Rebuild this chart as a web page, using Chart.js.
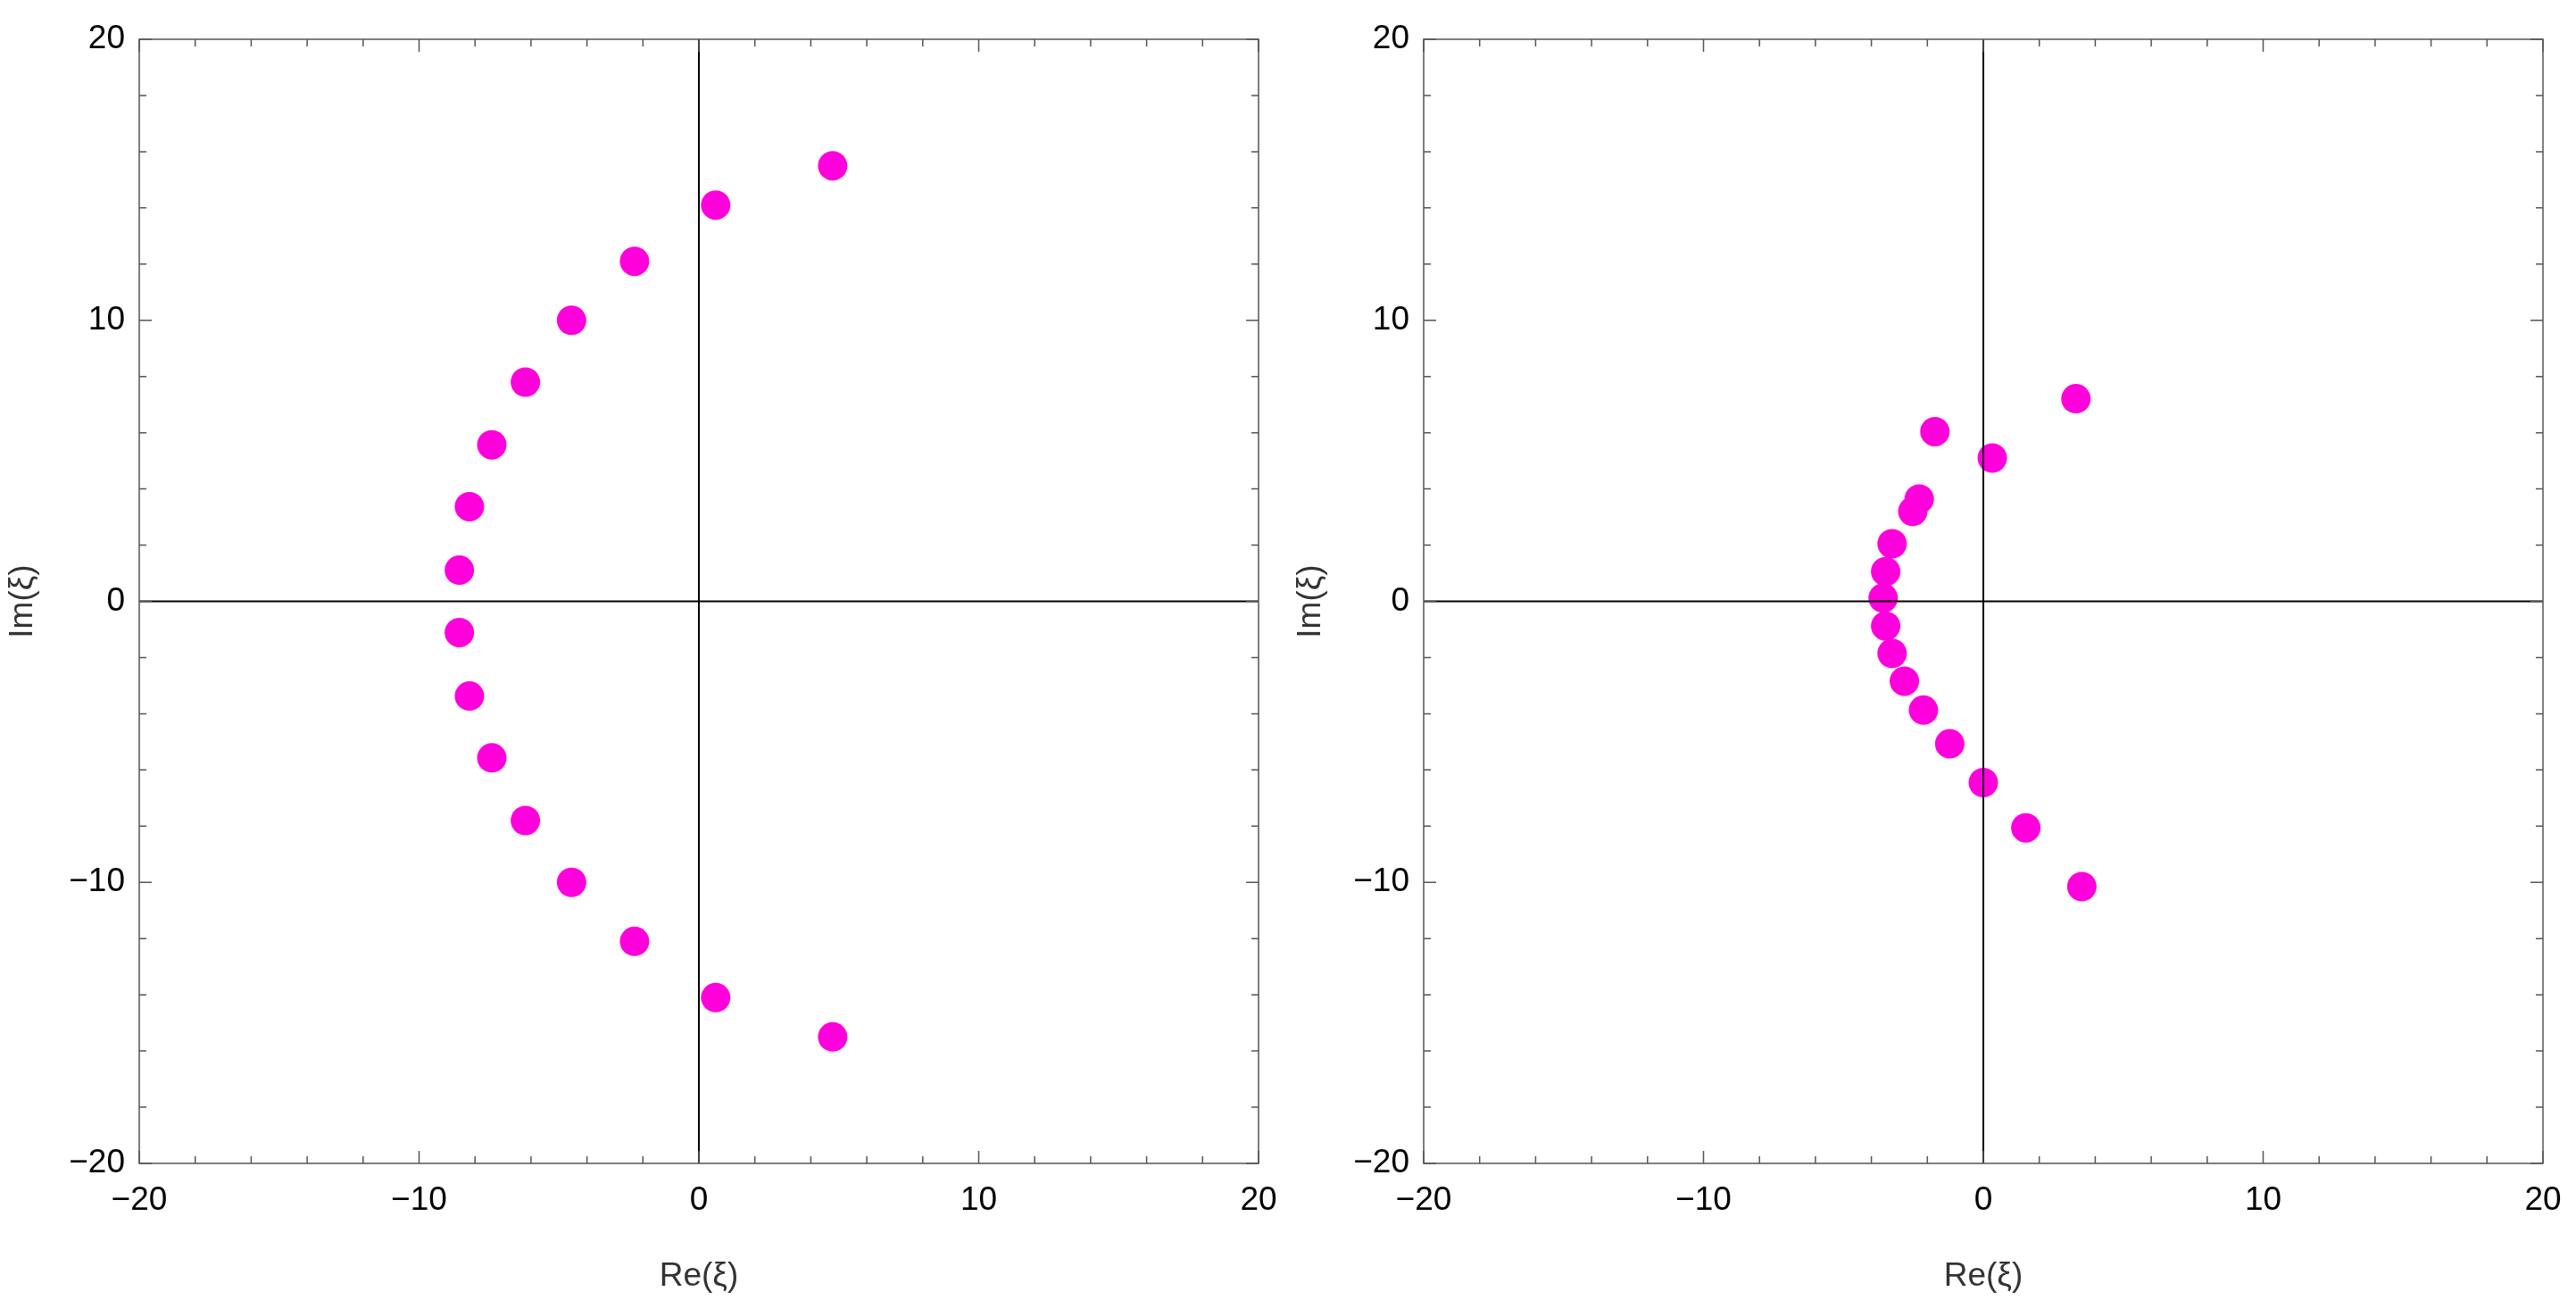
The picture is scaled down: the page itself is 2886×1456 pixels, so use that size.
<!DOCTYPE html>
<html><head><meta charset="utf-8">
<script src="https://cdn.jsdelivr.net/npm/chart.js@4"></script>
<style>html,body{margin:0;padding:0;background:#fff;width:2886px;height:1456px;overflow:hidden}
.c{position:absolute;top:0;width:1443px;height:1456px}</style></head>
<body>
<div class="c" style="left:0"><canvas id="a"></canvas></div>
<div class="c" style="left:1443px"><canvas id="b"></canvas></div>
<script>
const leftRe=[4.78,0.6,-2.3,-4.55,-6.2,-7.4,-8.2,-8.56,-8.56,-8.2,-7.4,-6.2,-4.55,-2.3,0.6,4.78];
const leftIm=[15.5,14.1,12.1,10.0,7.8,5.57,3.37,1.11,-1.11,-3.37,-5.57,-7.8,-10.0,-12.1,-14.1,-15.5];
const rightRe=[3.31,-1.73,0.32,-2.29,-2.52,-3.26,-3.49,-3.58,-3.49,-3.26,-2.82,-2.14,-1.2,0,1.52,3.52];
const rightIm=[7.21,6.04,5.1,3.64,3.2,2.05,1.06,0.12,-0.88,-1.85,-2.84,-3.87,-5.07,-6.45,-8.06,-10.15];
const axisMin=-20, axisMax=20, majorStep=10, minorStep=2;
const tickValues=[-20,-10,0,10,20];
const xTitle='Re(\u03BE)', yTitle='Im(\u03BE)';

const frame={id:'frame',afterDatasetsDraw(ch){
  const c=ch.ctx,a=ch.chartArea,xs=ch.scales.x,ys=ch.scales.y;
  c.save();
  c.strokeStyle='#000';c.lineWidth=2;
  c.beginPath();
  const x0=xs.getPixelForValue(0),y0=ys.getPixelForValue(0);
  c.moveTo(x0,a.top);c.lineTo(x0,a.bottom);c.moveTo(a.left,y0);c.lineTo(a.right,y0);c.stroke();
  c.strokeStyle='#555';c.lineWidth=1.5;
  c.strokeRect(a.left,a.top,a.right-a.left,a.bottom-a.top);
  c.beginPath();
  for(let v=axisMin;v<=axisMax;v+=minorStep){
    const L=(v%majorStep===0)?14:8;
    const px=xs.getPixelForValue(v),py=ys.getPixelForValue(v);
    c.moveTo(px,a.bottom);c.lineTo(px,a.bottom-L);c.moveTo(px,a.top);c.lineTo(px,a.top+L);
    c.moveTo(a.left,py);c.lineTo(a.left+L,py);c.moveTo(a.right,py);c.lineTo(a.right-L,py);
  }
  c.stroke();c.restore();
}};
function make(id,re,im,yw,rp){
  const font={family:'Liberation Sans, Arial, sans-serif',size:37};
  const tk={min:axisMin,max:axisMax};
  new Chart(document.getElementById(id),{type:'scatter',
    data:{datasets:[{data:re.map((x,i)=>({x:x,y:im[i]})),backgroundColor:'#ff00dd',borderWidth:0,pointRadius:16.5,pointHoverRadius:16.5}]},
    options:{responsive:false,animation:false,devicePixelRatio:1,
      layout:{padding:{top:44,right:rp,left:0,bottom:0}},
      plugins:{legend:{display:false},tooltip:{enabled:false}},
      scales:{
        x:{...tk,grid:{display:false},border:{display:false},
          afterBuildTicks(s){s.ticks=tickValues.map(v=>({value:v}));},
          afterFit(s){s.height=153;},
          ticks:{color:'#000',font,padding:12,maxRotation:0,callback:v=>String(v).replace('-','\u2212')},
          title:{display:true,text:xTitle,color:'#333',font,padding:{top:22}}},
        y:{...tk,grid:{display:false},border:{display:false},
          afterBuildTicks(s){s.ticks=tickValues.map(v=>({value:v}));},
          afterFit(s){s.width=yw;},
          ticks:{color:'#000',font,padding:8,callback:v=>String(v).replace('-','\u2212')},
          title:{display:true,text:yTitle,color:'#333',font,padding:{bottom:14}}}
      }},plugins:[frame]});
}
document.getElementById('a').width=1443;document.getElementById('a').height=1456;
document.getElementById('b').width=1443;document.getElementById('b').height=1456;
make('a',leftRe,leftIm,156,33);
make('b',rightRe,rightIm,152,37);
</script></body></html>
